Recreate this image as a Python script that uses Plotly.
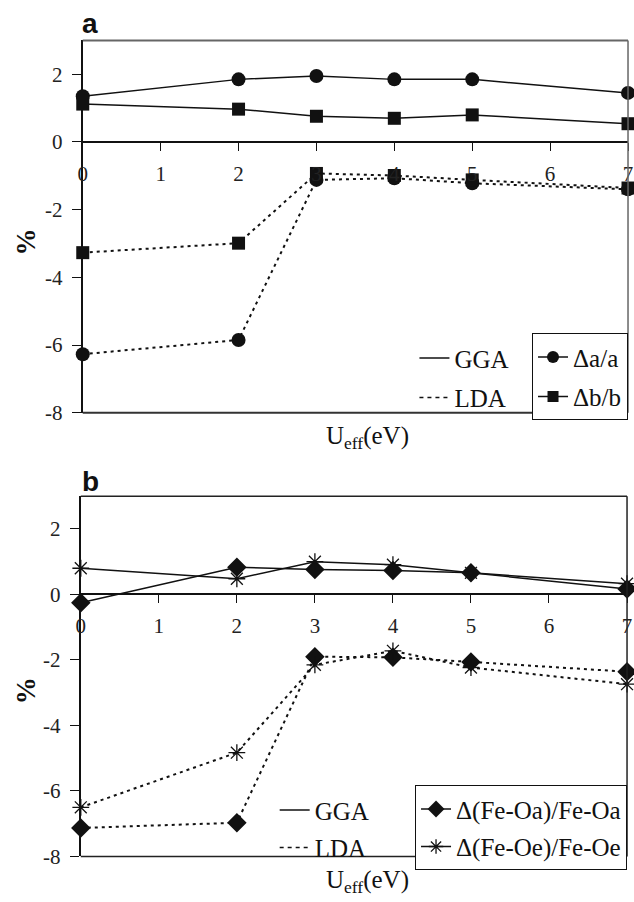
import plotly.graph_objects as go

# ---- data ----
u_eff = [0, 2, 3, 4, 5, 7]

# panel a
gga_da = [1.35, 1.85, 1.95, 1.85, 1.85, 1.45]
gga_db = [1.12, 0.97, 0.76, 0.70, 0.80, 0.54]
lda_da = [-6.27, -5.85, -1.12, -1.07, -1.22, -1.40]
lda_db = [-3.27, -2.99, -0.93, -0.99, -1.12, -1.36]

# panel b
gga_oa = [-0.25, 0.83, 0.76, 0.73, 0.66, 0.17]
gga_oe = [0.80, 0.48, 1.00, 0.91, 0.66, 0.33]
lda_oa = [-7.13, -6.97, -1.90, -1.92, -2.06, -2.36]
lda_oe = [-6.50, -4.83, -2.15, -1.72, -2.23, -2.74]

x_ticks = [0, 1, 2, 3, 4, 5, 6, 7]
y_ticks = [-8, -6, -4, -2, 0, 2]

W, H = 634, 902
SERIF = "Liberation Serif"
INK = "#111111"
DOT = "3px,4px"


def py(p):
    return 1 - p / H


fig = go.Figure()

def add(x, y, xa, ya, symbol, dash, size, mlw=0, mcolor=INK):
    fig.add_trace(go.Scatter(
        x=x, y=y, xaxis=xa, yaxis=ya, mode="lines+markers",
        line=dict(color=INK, width=1.5 if dash == "solid" else 2, dash=dash),
        marker=dict(symbol=symbol, size=size, color=mcolor,
                    line=dict(width=mlw, color=INK)),
        cliponaxis=False, showlegend=False, hoverinfo="skip"))

# panel a
add(u_eff, gga_da, "x", "y", "circle", "solid", 14)
add(u_eff, gga_db, "x", "y", "square", "solid", 13)
add(u_eff, lda_da, "x", "y", "circle", DOT, 14)
add(u_eff, lda_db, "x", "y", "square", DOT, 13)
# panel b
add(u_eff, gga_oa, "x2", "y2", "diamond", "solid", 15)
add(u_eff, gga_oe, "x2", "y2", "asterisk-open", "solid", 14, mlw=1.3)
add(u_eff, lda_oa, "x2", "y2", "diamond", DOT, 15)
add(u_eff, lda_oe, "x2", "y2", "asterisk-open", DOT, 14, mlw=1.3)

# legend-only entries
def leg(name, legend, dash, symbol=None, size=12, mlw=0, xa="x", ya="y", grp=None):
    mode = "lines+markers" if symbol else "lines"
    fig.add_trace(go.Scatter(
        x=[None], y=[None], xaxis=xa, yaxis=ya, mode=mode, name=name,
        legend=legend, legendgroup=grp or name,
        line=dict(color=INK, width=1.5, dash=dash),
        marker=dict(symbol=symbol or "circle", size=size, color=INK,
                    line=dict(width=mlw, color=INK)),
        showlegend=True))

leg("GGA", "legend", "solid", grp="a1")
leg("LDA", "legend", "4px,4px", grp="a2")
leg("\u0394a/a", "legend2", "solid", "circle", 12, grp="a3")
leg("\u0394b/b", "legend2", "solid", "square", 11, grp="a4")
leg("GGA", "legend3", "solid", xa="x2", ya="y2", grp="b1")
leg("LDA", "legend3", "4px,4px", xa="x2", ya="y2", grp="b2")
leg("\u0394(Fe-Oa)/Fe-Oa", "legend4", "solid", "diamond", 13, xa="x2", ya="y2", grp="b3")
leg("\u0394(Fe-Oe)/Fe-Oe", "legend4", "solid", "asterisk-open", 12, mlw=1.3, xa="x2", ya="y2", grp="b4")

# panel geometry in px
A = dict(x0=79, x1=633, y0=41, y1=418.3, zero=143.7)
B = dict(x0=77, x1=632, y0=502.9, y1=868, zero=602.5)

tickfont = dict(family=SERIF, size=21, color="#222")

def xaxis_cfg(P, anchor_y):
    return dict(domain=[P["x0"] / W, P["x1"] / W], range=[0, 7], anchor="free",
                position=py(P["zero"]), tickvals=x_ticks, ticks="outside",
                ticklen=8, tickwidth=1.3, tickcolor=INK, showline=True,
                linecolor=INK, linewidth=1.5, showgrid=False, zeroline=False,
                tickfont=tickfont, ticklabelstandoff=5, ticklabeloverflow="allow",
                fixedrange=True)

def yaxis_cfg(P, anchor_x):
    return dict(domain=[py(P["y1"]), py(P["y0"])], range=[-8, 3], anchor=anchor_x,
                tickvals=y_ticks, ticktext=[str(v) for v in y_ticks],
                ticks="outside", ticklen=9, tickwidth=1.3, tickcolor=INK,
                showline=True, linecolor=INK, linewidth=2, showgrid=False,
                zeroline=False, tickfont=tickfont, ticklabelstandoff=5,
                fixedrange=True)

legfont = dict(family=SERIF, size=25, color=INK)

fig.update_layout(
    width=W, height=H, margin=dict(l=0, r=0, t=0, b=0),
    paper_bgcolor="white", plot_bgcolor="white",
    xaxis=xaxis_cfg(A, "y"), yaxis=yaxis_cfg(A, "x"),
    xaxis2=xaxis_cfg(B, "y2"), yaxis2=yaxis_cfg(B, "x2"),
    legend=dict(x=416 / W, y=py(426), xanchor="left", yanchor="bottom",
                font=legfont, bgcolor="rgba(0,0,0,0)", borderwidth=0,
                traceorder="grouped", tracegroupgap=4, itemwidth=30),
    legend2=dict(x=633 / W, y=py(426), xanchor="right", yanchor="bottom",
                 font=legfont, bgcolor="white", bordercolor=INK, borderwidth=1,
                 traceorder="grouped", tracegroupgap=4, itemwidth=30),
    legend3=dict(x=274 / W, y=py(882), xanchor="left", yanchor="bottom",
                 font=legfont, bgcolor="rgba(0,0,0,0)", borderwidth=0,
                 traceorder="grouped", tracegroupgap=2, itemwidth=30),
    legend4=dict(x=632 / W, y=py(882), xanchor="right", yanchor="bottom",
                 font=legfont, bgcolor="white", bordercolor=INK, borderwidth=1,
                 traceorder="grouped", tracegroupgap=2, itemwidth=30),
    showlegend=True,
)

# frame lines
shapes = []
shapes.append(dict(type="line", xref="x domain", yref="y domain", x0=0, x1=1, y0=1, y1=1,
                   line=dict(color="#666", width=2)))
shapes.append(dict(type="line", xref="x domain", yref="y domain", x0=1, x1=1, y0=0, y1=1,
                   line=dict(color="#666", width=1.5)))
shapes.append(dict(type="line", xref="x domain", yref="y domain", x0=0, x1=1, y0=0, y1=0,
                   line=dict(color="#333", width=2)))
for (a0, a1, b0, b1) in [(0, 1, 1, 1), (1, 1, 0, 1), (0, 1, 0, 0)]:
    shapes.append(dict(type="line", xref="x2 domain", yref="y2 domain", x0=a0, x1=a1,
                       y0=b0, y1=b1, line=dict(color="#222", width=1.5)))
fig.update_layout(shapes=shapes)

ann = []
ann.append(dict(text="<b>a</b>", x=76 / W, y=py(42), xref="paper", yref="paper",
                xanchor="left", yanchor="bottom", showarrow=False,
                font=dict(family="Liberation Sans", size=28, color=INK)))
ann.append(dict(text="<b>b</b>", x=76 / W, y=py(506), xref="paper", yref="paper",
                xanchor="left", yanchor="bottom", showarrow=False,
                font=dict(family="Liberation Sans", size=28, color=INK)))
for ycen in (245, 700):
    ann.append(dict(text="<b>%</b>", x=21 / W, y=py(ycen), xref="paper", yref="paper",
                    xanchor="center", yanchor="middle", textangle=-90, showarrow=False,
                    font=dict(family=SERIF, size=27, color=INK)))
for ycen in (443, 893):
    ann.append(dict(text="U<sub>eff</sub>(eV)", x=368 / W, y=py(ycen), xref="paper",
                    yref="paper", xanchor="center", yanchor="middle", showarrow=False,
                    font=dict(family=SERIF, size=25, color=INK)))
fig.update_layout(annotations=ann)

fig.write_html("out.html")
